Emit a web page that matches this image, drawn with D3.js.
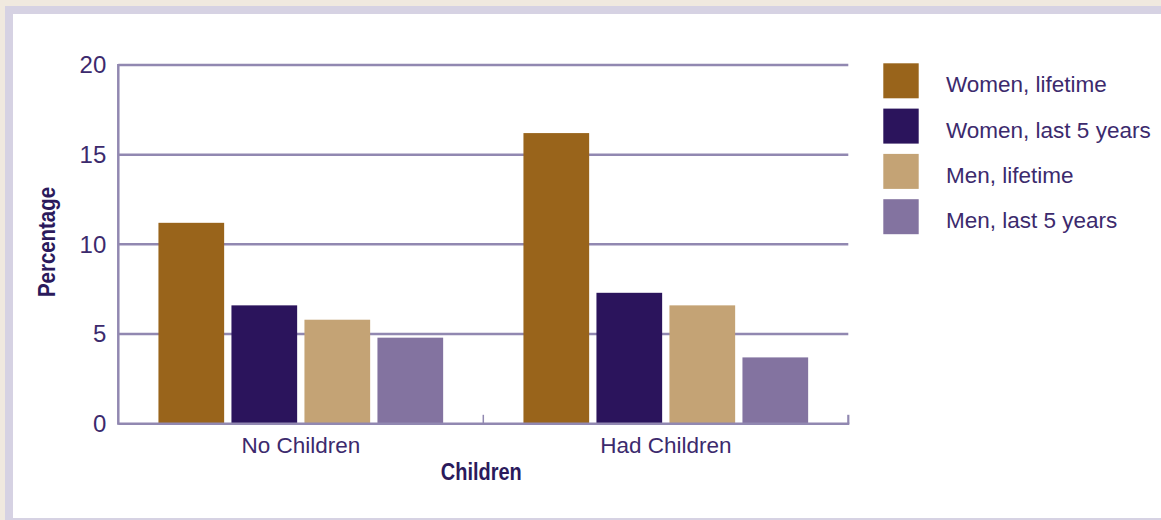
<!DOCTYPE html>
<html>
<head>
<meta charset="utf-8">
<script src="https://cdn.jsdelivr.net/npm/d3@7"></script>
<style>
  html, body { margin: 0; padding: 0; background: #ffffff; }
  svg { display: block; }
</style>
</head>
<body>
<svg id="chart" width="1161" height="520"></svg>
<script>
// ---- data ----
const categories = ["No Children", "Had Children"];
const seriesNames = ["Women, lifetime", "Women, last 5 years", "Men, lifetime", "Men, last 5 years"];
const womenLifetime = [11.2, 16.2];
const womenLast5 = [6.6, 7.3];
const menLifetime = [5.8, 6.6];
const menLast5 = [4.8, 3.7];
const yTicks = [0, 5, 10, 15, 20];
const seriesColors = ["#99641b", "#2b145c", "#c4a375", "#8373a0"];

const seriesValues = [womenLifetime, womenLast5, menLifetime, menLast5];

const svg = d3.select("#chart");
const W = 1161, H = 520;

// ---- background frame ----
svg.append("rect").attr("x", 0).attr("y", 0).attr("width", W).attr("height", H).attr("fill", "#f0e9df");
svg.append("rect").attr("x", 5).attr("y", 6).attr("width", W - 5).attr("height", H - 6).attr("fill", "#d6d2e3");
svg.append("rect").attr("x", 13).attr("y", 14).attr("width", W - 13).attr("height", H - 16).attr("fill", "#ffffff");

const gridColor = "#9188b1";
const textColor = "#3c2a6d";
const titleColor = "#2b1a5c";
const normalFont = "'Liberation Sans', Arial, Helvetica, sans-serif";
const boldFont = "'Liberation Sans Narrow', 'Liberation Sans', Arial, sans-serif";

// ---- scales ----
const plotLeft = 118.3, plotRight = 848.3;
const y = d3.scaleLinear().domain([0, 20]).range([423.8, 64.9]);
const x0 = d3.scaleBand().domain(categories).range([plotLeft, plotRight]).paddingInner(0).paddingOuter(0);
const x1 = d3.scaleBand().domain(seriesNames).range([0, x0.bandwidth()]).paddingInner(0.1).paddingOuter(0.55);

// ---- gridlines ----
svg.append("g").selectAll("line").data(yTicks.filter(d => d > 0)).join("line")
  .attr("x1", plotLeft).attr("x2", plotRight)
  .attr("y1", d => y(d)).attr("y2", d => y(d))
  .attr("stroke", gridColor).attr("stroke-width", 2.5);

// ---- bars ----
const groups = svg.append("g").selectAll("g").data(categories).join("g")
  .attr("transform", c => `translate(${x0(c)},0)`);
groups.selectAll("rect").data((c, ci) => seriesNames.map((s, si) => ({ s, si, v: seriesValues[si][ci] })))
  .join("rect")
  .attr("x", d => x1(d.s))
  .attr("width", x1.bandwidth())
  .attr("y", d => y(d.v))
  .attr("height", d => y(0) - y(d.v))
  .attr("fill", d => seriesColors[d.si]);

// ---- y axis ----
const yAxis = svg.append("g").attr("transform", `translate(${plotLeft},0)`)
  .call(d3.axisLeft(y).tickValues(yTicks).tickSize(0).tickPadding(12).tickFormat(d3.format("d")));
yAxis.select(".domain").remove();
yAxis.selectAll("text")
  .attr("fill", textColor).attr("font-family", normalFont).attr("font-size", "24px")
  .attr("dy", "0.33em");
svg.append("line").attr("x1", plotLeft).attr("x2", plotLeft).attr("y1", y(20) - 1).attr("y2", y(0) + 1)
  .attr("stroke", gridColor).attr("stroke-width", 2.5);

// ---- x axis ----
const xAxis = svg.append("g").attr("transform", `translate(0,${y(0)})`)
  .call(d3.axisBottom(x0).tickSize(0).tickPadding(13));
xAxis.select(".domain").remove();
xAxis.selectAll("text")
  .attr("fill", textColor).attr("font-family", normalFont).attr("font-size", "22.5px")
  .attr("dy", "0.71em");
svg.append("line").attr("x1", plotLeft).attr("x2", plotRight + 1).attr("y1", y(0)).attr("y2", y(0))
  .attr("stroke", gridColor).attr("stroke-width", 2.5);
// boundary ticks
const boundaries = [x0(categories[1]), plotRight];
svg.append("g").selectAll("line").data(boundaries).join("line")
  .attr("x1", d => d).attr("x2", d => d)
  .attr("y1", y(0) - 9).attr("y2", y(0))
  .attr("stroke", gridColor).attr("stroke-width", (d, i) => i === 0 ? 1.5 : 2.2);

// ---- axis titles ----
svg.append("text").text("Children")
  .attr("x", (plotLeft + plotRight) / 2 - 2).attr("y", 480)
  .attr("text-anchor", "middle")
  .attr("textLength", 81).attr("lengthAdjust", "spacingAndGlyphs")
  .attr("font-family", boldFont).attr("font-weight", "bold")
  .attr("font-size", "24px").attr("fill", titleColor);
svg.append("text").text("Percentage")
  .attr("transform", "translate(55,242) rotate(-90)")
  .attr("text-anchor", "middle")
  .attr("textLength", 110).attr("lengthAdjust", "spacingAndGlyphs")
  .attr("font-family", boldFont).attr("font-weight", "bold")
  .attr("font-size", "24px").attr("fill", titleColor);

// ---- legend ----
const legend = svg.append("g").attr("transform", "translate(883.3,63.3)");
const legItems = legend.selectAll("g").data(seriesNames).join("g")
  .attr("transform", (d, i) => `translate(0,${i * 45.3})`);
legItems.append("rect").attr("width", 35.4).attr("height", 35)
  .attr("fill", (d, i) => seriesColors[i]);
legItems.append("text").text(d => d)
  .attr("x", 62.7).attr("y", 29)
  .attr("font-family", normalFont).attr("font-size", "22.5px").attr("fill", textColor);
</script>
</body>
</html>
